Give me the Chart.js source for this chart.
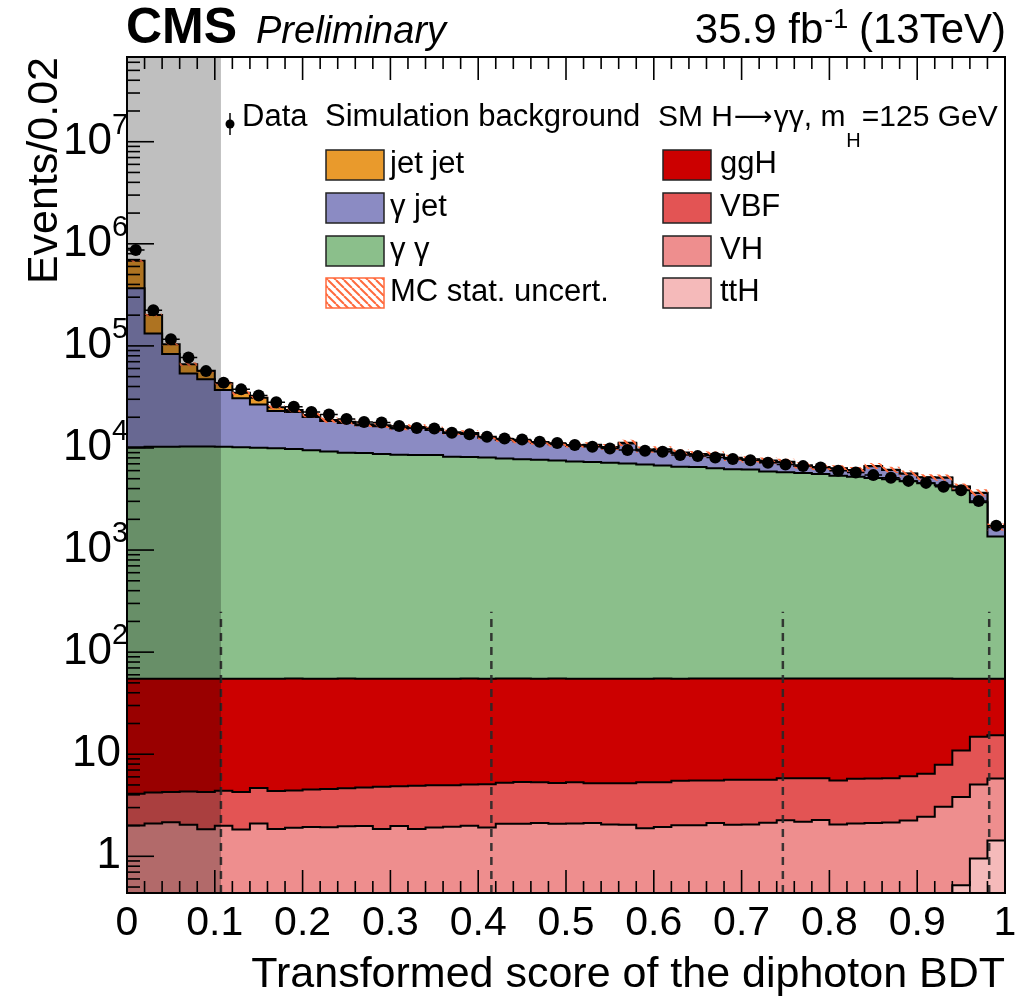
<!DOCTYPE html>
<html>
<head>
<meta charset="utf-8">
<script src="https://cdn.jsdelivr.net/npm/chart.js@4.4.1/dist/chart.umd.min.js"></script>
<style>
  html, body { margin: 0; padding: 0; background: #fff; }
  #wrap { width: 1024px; height: 997px; position: relative; }
</style>
</head>
<body>
<div id="wrap"><canvas id="bdtChart" width="1024" height="997"></canvas></div>
<script>
// Binning of the transformed diphoton BDT score (50 bins of 0.02)
const binEdges = [0.00, 0.02, 0.04, 0.06, 0.08, 0.10, 0.12, 0.14, 0.16, 0.18,
                  0.20, 0.22, 0.24, 0.26, 0.28, 0.30, 0.32, 0.34, 0.36, 0.38,
                  0.40, 0.42, 0.44, 0.46, 0.48, 0.50, 0.52, 0.54, 0.56, 0.58,
                  0.60, 0.62, 0.64, 0.66, 0.68, 0.70, 0.72, 0.74, 0.76, 0.78,
                  0.80, 0.82, 0.84, 0.86, 0.88, 0.90, 0.92, 0.94, 0.96, 0.98, 1.00];

// Observed data (events / 0.02)
const dataCounts = [869000, 224000, 116000, 77100, 56600, 43500, 37500, 32700, 28100, 25300,
                    22500, 21300, 19200, 18000, 17800, 16400, 15700, 15500, 14100, 13600,
                    12900, 12400, 12100, 11500, 11200, 10700, 10300, 9900, 9530, 9380,
                    9170, 8510, 8320, 8080, 7780, 7600, 7150, 6900, 6640, 6440,
                    5970, 5760, 5420, 5100, 4760, 4550, 4160, 3860, 3030, 1730];

// Simulated backgrounds
const jetJet = [316000, 68000, 21000, 12200, 10000, 6000, 4100, 4400, 2000, 1100,
                1000, 400, 520, 380, 360, 290, 330, 260, 270, 230,
                250, 210, 230, 190, 170, 200, 150, 160, 140, 150,
                120, 110, 130, 100, 90, 110, 80, 70, 90, 60,
                70, 50, 60, 40, 40, 30, 30, 20, 20, 10];
const gammaJet = [356000, 122000, 72800, 43400, 36700, 26700, 20500, 16600, 13100, 12700,
                  10600, 9140, 8560, 7750, 7600, 6950, 7240, 6460, 5770, 5670,
                  4570, 4130, 3860, 3590, 3300, 3110, 3300, 2930, 4050, 2590,
                  2880, 2350, 2120, 2180, 1730, 1480, 1560, 1460, 990, 900,
                  930, 810, 1530, 1150, 880, 640, 790, 320, 690, 320];
const gammaGamma = [10100, 10200, 10200, 10300, 10300, 10200, 10100, 9980, 9870, 9700,
                    9430, 9160, 8940, 8850, 8650, 8550, 8460, 8460, 8170, 8080,
                    7990, 7840, 7720, 7600, 7500, 7300, 7220, 7100, 6980, 6850,
                    6670, 6510, 6440, 6290, 6150, 6110, 5830, 5740, 5620, 5510,
                    5290, 5170, 5030, 4880, 4660, 4450, 4250, 3800, 2880, 1300];

// SM H->gg signal, mH = 125 GeV
const ggH = [50.9, 50.7, 50.7, 50.7, 50.7, 50.6, 50.7, 50.3, 50.6, 50.6,
             50.5, 50.4, 50.4, 50.3, 50.2, 50.1, 50.1, 50.0, 50.0, 50.0,
             49.9, 49.8, 49.7, 49.7, 49.8, 49.7, 49.8, 49.8, 49.8, 49.7,
             49.7, 49.5, 49.5, 49.5, 49.4, 49.4, 49.4, 49.3, 49.3, 49.3,
             49.6, 49.4, 49.4, 49.4, 49.1, 48.8, 47.4, 44.1, 40.2, 39.7];
const vbf = [2.09, 2.13, 2.10, 2.27, 2.43, 2.39, 2.43, 2.58, 2.50, 2.52,
             2.56, 2.63, 2.67, 2.73, 2.94, 2.88, 3.05, 3.05, 3.02, 3.07,
             3.17, 3.17, 3.25, 3.18, 3.14, 3.21, 3.07, 3.15, 3.15, 3.43,
             3.38, 3.50, 3.50, 3.41, 3.58, 3.58, 3.50, 3.56, 3.64, 3.56,
             3.49, 3.66, 3.66, 3.66, 3.84, 4.00, 4.84, 7.09, 9.76, 9.53];
const vh = [1.90, 2.00, 2.05, 1.94, 1.72, 1.89, 1.72, 1.97, 1.75, 1.79,
            1.82, 1.82, 1.85, 1.86, 1.72, 1.86, 1.72, 1.79, 1.82, 1.85,
            1.79, 1.94, 1.94, 1.97, 1.94, 1.94, 1.97, 1.89, 1.89, 1.72,
            1.77, 1.85, 1.85, 1.94, 1.86, 1.86, 1.94, 2.05, 1.97, 2.05,
            1.82, 1.86, 1.86, 1.86, 1.94, 2.10, 2.66, 3.29, 4.09, 4.34];
const ttH = [0.10, 0.09, 0.11, 0.10, 0.12, 0.10, 0.11, 0.12, 0.10, 0.11,
             0.12, 0.11, 0.12, 0.12, 0.13, 0.12, 0.13, 0.12, 0.13, 0.14,
             0.13, 0.14, 0.14, 0.15, 0.14, 0.15, 0.15, 0.16, 0.15, 0.16,
             0.17, 0.16, 0.17, 0.18, 0.18, 0.19, 0.19, 0.20, 0.21, 0.22,
             0.23, 0.24, 0.26, 0.28, 0.30, 0.34, 0.40, 0.52, 0.95, 1.43];

// Relative MC statistical uncertainty on the total
const mcStatUnc = [0.03, 0.03, 0.03, 0.04, 0.04, 0.04, 0.05, 0.05, 0.05, 0.05,
                   0.05, 0.06, 0.06, 0.06, 0.06, 0.06, 0.06, 0.06, 0.06, 0.06,
                   0.06, 0.06, 0.06, 0.06, 0.06, 0.06, 0.06, 0.07, 0.07, 0.07,
                   0.07, 0.07, 0.07, 0.07, 0.07, 0.07, 0.07, 0.07, 0.07, 0.07,
                   0.07, 0.07, 0.07, 0.07, 0.07, 0.07, 0.07, 0.07, 0.08, 0.08];

// Category boundaries and the excluded low-score region
const categoryCuts = [0.107, 0.415, 0.747, 0.982];
const CUT_LINE_TOP = 248;
const EXCLUDED_END = 0.107;

// Axis
const Y_MIN = 0.437;
const Y_MAX = 6.76e7;
const yTickValues = [1, 10, 100, 1e3, 1e4, 1e5, 1e6, 1e7];
const xMajorEvery = 5; // every 5th bin edge gets a long tick

const FONT = "'Liberation Sans', Arial, Helvetica, sans-serif";

const colors = {
    jetJet: '#e99a2c',
    gammaJet: '#8b8bc3',
    gammaGamma: '#8bbf8b',
    ggH: '#cc0000',
    vbf: '#e35454',
    vh: '#ee8e8e',
    ttH: '#f5baba',
    hatch: '#ff6a3d',
    excluded: 'rgba(0,0,0,0.25)'
};

// Hatch pattern for the MC stat. uncertainty band
function makeHatch() {
    const c = document.createElement('canvas');
    c.width = 8; c.height = 8;
    const g = c.getContext('2d');
    g.strokeStyle = colors.hatch;
    g.lineWidth = 2;
    [-8, 0, 8].forEach(k => {
        g.beginPath();
        g.moveTo(k, 0);
        g.lineTo(k + 8, 8);
        g.stroke();
    });
    return g.createPattern(c, 'repeat');
}
const hatchPattern = makeHatch();

// Stack sums (bottom to top)
function addArrays(a, b) { return a.map((v, i) => v + b[i]); }
const cumTtH = ttH.slice();
const cumVH = addArrays(cumTtH, vh);
const cumVBF = addArrays(cumVH, vbf);
const cumGgH = addArrays(cumVBF, ggH);
const cumGG = addArrays(cumGgH, gammaGamma);
const cumGJ = addArrays(cumGG, gammaJet);
const cumJJ = addArrays(cumGJ, jetJet);

function stepPoints(values) {
    const pts = values.map((v, i) => ({ x: binEdges[i], y: v }));
    pts.push({ x: binEdges[values.length], y: values[values.length - 1] });
    return pts;
}

function histDataset(label, values, color) {
    return {
        label: label,
        data: stepPoints(values),
        stepped: true,
        fill: 'start',
        backgroundColor: color,
        borderColor: '#000',
        borderWidth: 2,
        pointRadius: 0
    };
}

const binCenters = dataCounts.map((v, i) => (binEdges[i] + binEdges[i + 1]) / 2);
const dataPoints = dataCounts.map((v, i) => ({ x: binCenters[i], y: v }));
const dataXErr = [];
dataCounts.forEach((v, i) => {
    dataXErr.push({ x: binEdges[i], y: v });
    dataXErr.push({ x: binEdges[i + 1], y: v });
    dataXErr.push({ x: binCenters[i], y: null });
});

const datasets = [
    // Data
    { label: 'Data', data: dataPoints, showLine: false, fill: false, pointRadius: 6,
      pointBackgroundColor: '#000', pointBorderWidth: 0, backgroundColor: '#000', borderColor: '#000' },
    { label: 'Data x-err', data: dataXErr, borderColor: '#000', backgroundColor: '#000', borderWidth: 1.5,
      pointRadius: 0, spanGaps: false, fill: false },
    // MC stat. uncertainty band
    { label: 'MC stat. uncert.', data: stepPoints(cumJJ.map((v, i) => v * (1 + mcStatUnc[i]))), stepped: true,
      fill: { target: 3 }, backgroundColor: hatchPattern, borderColor: 'transparent', borderWidth: 1, pointRadius: 0 },
    { label: 'MC stat. low', data: stepPoints(cumJJ.map((v, i) => v * (1 - mcStatUnc[i]))), stepped: true,
      fill: false, backgroundColor: 'transparent', borderColor: 'transparent', borderWidth: 1, pointRadius: 0 }
];

// Category boundaries (dashed)
categoryCuts.forEach(cut => {
    datasets.push({
        label: 'cut', data: [{ x: cut, y: Y_MIN }, { x: cut, y: CUT_LINE_TOP }],
        borderColor: 'rgba(40,40,40,0.9)', backgroundColor: 'transparent', borderWidth: 2.5,
        borderDash: [8, 6], pointRadius: 0, fill: false
    });
});

// Stack, smallest cumulative first so it is drawn on top
datasets.push(histDataset('ttH', cumTtH, colors.ttH));
datasets.push(histDataset('VH', cumVH, colors.vh));
datasets.push(histDataset('VBF', cumVBF, colors.vbf));
datasets.push(histDataset('ggH', cumGgH, colors.ggH));
datasets.push(histDataset('γ γ', cumGG, colors.gammaGamma));
datasets.push(histDataset('γ jet', cumGJ, colors.gammaJet));
datasets.push(histDataset('jet jet', cumJJ, colors.jetJet));

// Frame, inside ticks, excluded-region shading, y labels, legend and header text
const cmsDecorations = {
    id: 'cmsDecorations',
    afterDraw(chart) {
        const { ctx, chartArea: a, scales: { x, y } } = chart;
        ctx.save();

        function seg(x1, y1, x2, y2) {
            ctx.beginPath(); ctx.moveTo(x1, y1); ctx.lineTo(x2, y2); ctx.stroke();
        }

        // Ticks
        ctx.strokeStyle = '#000';
        ctx.lineWidth = 1.6;
        binEdges.forEach((e, i) => {
            const px = x.getPixelForValue(e);
            const len = i % xMajorEvery === 0 ? 23 : 12;
            seg(px, a.bottom, px, a.bottom - len);
            seg(px, a.top, px, a.top + len);
        });
        for (let exp = -1; exp <= 8; exp++) {
            for (let m = 1; m <= 9; m++) {
                const v = m * Math.pow(10, exp);
                if (v < Y_MIN || v > Y_MAX) continue;
                const py = y.getPixelForValue(v);
                seg(a.left, py, a.left + (m === 1 ? 27 : 13), py);
            }
        }

        // Frame
        ctx.lineWidth = 2;
        ctx.strokeRect(a.left, a.top, a.right - a.left, a.bottom - a.top);

        // Grey overlay of the excluded low-score region
        const x0 = x.getPixelForValue(0);
        const x1 = x.getPixelForValue(EXCLUDED_END);
        ctx.fillStyle = colors.excluded;
        ctx.fillRect(x0, a.top, x1 - x0, a.bottom - a.top);

        // Y tick labels
        ctx.fillStyle = '#000';
        ctx.textBaseline = 'middle';
        yTickValues.forEach(v => {
            const py = y.getPixelForValue(v);
            const exp = Math.round(Math.log10(v));
            ctx.font = `44px ${FONT}`;
            ctx.textAlign = 'right';
            if (exp <= 1) {
                ctx.fillText(String(v), a.left - 6, py);
            } else {
                ctx.fillText('10', a.left - 15, py);
                ctx.font = `29px ${FONT}`;
                ctx.textAlign = 'left';
                ctx.textBaseline = 'alphabetic';
                ctx.fillText(String(exp), a.left - 15, py - 8);
                ctx.textBaseline = 'middle';
            }
        });

        // Header
        ctx.textBaseline = 'alphabetic';
        ctx.textAlign = 'left';
        ctx.font = `bold 50px ${FONT}`;
        ctx.fillText('CMS', 126, 43);
        ctx.font = `italic 38px ${FONT}`;
        ctx.fillText('Preliminary', 256, 43);
        const lumiA = '35.9 fb', lumiSup = '-1', lumiB = ' (13TeV)';
        ctx.font = `42px ${FONT}`;
        const wA = ctx.measureText(lumiA).width, wB = ctx.measureText(lumiB).width;
        ctx.font = `27px ${FONT}`;
        const wS = ctx.measureText(lumiSup).width;
        const lx = a.right + 1 - (wA + wS + wB);
        ctx.font = `42px ${FONT}`;
        ctx.fillText(lumiA, lx, 43);
        ctx.font = `27px ${FONT}`;
        ctx.fillText(lumiSup, lx + wA + 1, 28);
        ctx.font = `42px ${FONT}`;
        ctx.fillText(lumiB, lx + wA + wS, 43);

        // Legend
        const LF = `31px ${FONT}`;
        ctx.font = LF;
        ctx.fillStyle = '#000';
        ctx.strokeStyle = '#000';
        ctx.lineWidth = 1.5;
        seg(230, 113, 230, 135);
        ctx.beginPath(); ctx.arc(230, 124, 4.5, 0, Math.PI * 2); ctx.fill();
        ctx.fillText('Data', 242, 126);
        ctx.fillText('Simulation background', 325, 126);
        // "SM H→γγ, m_H=125 GeV" built piecewise
        const SF = `30px ${FONT}`;
        let tx = 658;
        ctx.font = SF;
        ctx.fillText('SM H', tx, 126);
        tx += ctx.measureText('SM H').width + 1;
        ctx.font = `27px 'DejaVu Sans', ${FONT}`;
        ctx.fillText('\u27f6', tx, 125);
        tx += ctx.measureText('\u27f6').width + 1;
        ctx.font = SF;
        ctx.fillText('\u03b3\u03b3, m', tx, 126);
        tx += ctx.measureText('\u03b3\u03b3, m').width + 1;
        ctx.font = `20px ${FONT}`;
        ctx.fillText('H', tx, 147);
        tx += ctx.measureText('H').width + 1;
        ctx.font = SF;
        ctx.fillText('=125 GeV', tx, 126);

        ctx.font = LF;
        const rows = [150, 193, 236, 278];
        const leftEntries = [['jet jet', colors.jetJet], ['\u03b3 jet', colors.gammaJet], ['\u03b3 \u03b3', colors.gammaGamma], ['MC stat. uncert.', hatchPattern]];
        const rightEntries = [['ggH', colors.ggH], ['VBF', colors.vbf], ['VH', colors.vh], ['ttH', colors.ttH]];
        function box(bx, by, w, fill, border) {
            if (fill === hatchPattern) {
                ctx.fillStyle = '#fff';
                ctx.fillRect(bx, by, w, 30);
            }
            ctx.fillStyle = fill;
            ctx.fillRect(bx, by, w, 30);
            ctx.strokeStyle = border;
            ctx.lineWidth = 1.5;
            ctx.strokeRect(bx, by, w, 30);
        }
        leftEntries.forEach(([txt, fill], i) => {
            box(326, rows[i], 58, fill, fill === hatchPattern ? colors.hatch : '#222');
            ctx.fillStyle = '#000';
            ctx.fillText(txt, 390, rows[i] + 23);
        });
        rightEntries.forEach(([txt, fill], i) => {
            box(663, rows[i], 48, fill, '#222');
            ctx.fillStyle = '#000';
            ctx.fillText(txt, 720, rows[i] + 23);
        });

        ctx.restore();
    }
};

const ctx = document.getElementById('bdtChart').getContext('2d');
const bdtChart = new Chart(ctx, {
    type: 'line',
    data: { datasets: datasets },
    options: {
        responsive: false,
        animation: false,
        devicePixelRatio: 1,
        events: [],
        layout: { padding: { top: 57, right: 19, left: 0, bottom: 0 } },
        plugins: {
            legend: { display: false },
            tooltip: { enabled: false }
        },
        scales: {
            x: {
                type: 'linear',
                min: 0,
                max: 1,
                afterFit: s => { s.height = 104; },
                grid: { display: false, drawTicks: false },
                border: { display: false },
                ticks: {
                    stepSize: 0.1,
                    padding: 6,
                    maxRotation: 0,
                    autoSkip: false,
                    color: '#000',
                    font: { family: FONT, size: 41 },
                    callback: v => String(+v.toFixed(1))
                },
                title: {
                    display: true,
                    text: 'Transformed score of the diphoton BDT',
                    align: 'end',
                    color: '#000',
                    font: { family: FONT, size: 43, lineHeight: 1 },
                    padding: { top: 0, bottom: 0 }
                }
            },
            y: {
                type: 'logarithmic',
                min: Y_MIN,
                max: Y_MAX,
                afterFit: s => { s.width = 127; },
                grid: { display: false, drawTicks: false },
                border: { display: false },
                ticks: { display: false },
                title: {
                    display: true,
                    text: 'Events/0.02',
                    align: 'end',
                    color: '#000',
                    font: { family: FONT, size: 43, lineHeight: 1 },
                    padding: { top: 24, bottom: 0 }
                }
            }
        }
    },
    plugins: [cmsDecorations]
});
</script>
</body>
</html>
